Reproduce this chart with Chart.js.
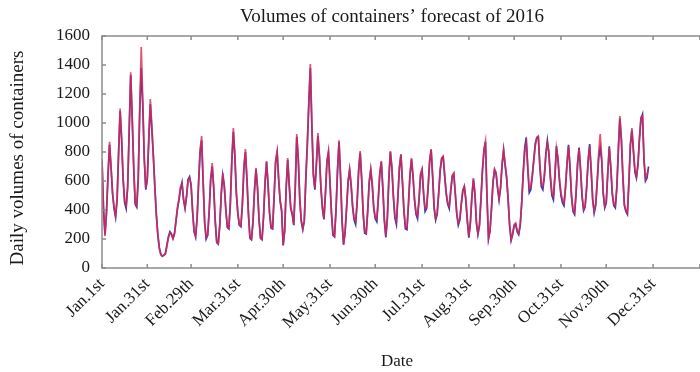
<!DOCTYPE html>
<html>
<head>
<meta charset="utf-8">
<script src="https://cdn.jsdelivr.net/npm/chart.js@4"></script>
<style>
  html, body { margin: 0; padding: 0; background: #fff; overflow: hidden; width: 700px; height: 372px; }
  #wrap { width: 724px; height: 372px; }
</style>
</head>
<body>
<div id="wrap"><canvas id="c" width="724" height="372"></canvas></div>
<script>
// Daily container volumes, 2016 (index 0 = Jan 1st)
const observed = [
  750,420,220,380,650,870,700,520,420,360,
  480,800,1100,900,620,460,430,560,950,1350,
  1050,700,450,430,620,1100,1524,1150,760,550,
  620,900,1165,980,785,560,360,220,130,90,
  83,90,97,150,210,240,230,200,230,330,
  420,480,560,580,480,420,500,600,620,580,
  400,260,220,350,600,820,910,600,320,210,
  230,400,620,724,560,330,180,170,300,520,
  655,560,400,290,275,450,750,965,780,520,
  380,300,290,450,700,820,620,380,210,200,
  320,540,690,560,340,210,200,360,600,738,
  580,380,280,275,500,740,807,620,470,400,
  160,260,560,758,580,420,380,300,560,924,
  760,480,330,270,330,620,860,1150,1407,1000,
  650,550,720,930,780,560,420,340,520,740,
  807,600,380,230,220,400,680,880,640,330,
  165,250,420,600,683,580,430,340,324,460,
  680,807,620,380,250,241,400,600,683,580,
  420,350,338,480,660,738,560,340,220,350,
  620,807,700,500,360,324,500,700,786,600,
  400,280,276,450,650,758,640,480,380,360,
  480,650,683,520,410,420,560,740,820,640,
  420,345,380,520,680,760,772,640,520,450,
  428,540,640,655,520,380,310,340,450,540,
  566,476,330,220,320,500,620,520,320,241,
  300,480,680,820,876,500,207,260,420,600,
  683,660,560,480,560,720,820,720,634,480,
  300,200,240,300,310,260,241,300,450,650,
  800,862,700,545,560,640,740,840,900,910,
  720,580,566,640,780,862,800,640,520,497,
  640,828,760,620,520,470,450,560,720,841,
  700,500,400,380,520,720,820,680,500,407,
  430,560,740,841,680,480,393,440,600,800,
  924,760,520,428,460,660,828,700,520,440,
  428,560,820,1048,900,640,440,400,380,600,
  860,965,820,680,634,720,900,1040,1048,760,
  614,650,683
];

const forecast = [
  740,400,230,390,640,850,690,510,410,350,
  470,790,1080,880,610,450,410,560,940,1330,
  1030,690,440,420,610,1080,1380,1120,750,540,
  610,880,1130,960,770,560,370,230,140,95,
  80,88,100,160,215,250,235,205,240,320,
  410,470,545,590,470,410,490,610,630,570,
  390,250,215,340,590,800,880,590,310,200,
  225,390,610,700,550,320,175,165,290,510,
  640,570,410,280,270,440,740,940,770,510,
  370,295,285,440,690,800,610,370,205,195,
  315,530,680,550,335,205,195,350,590,730,
  570,375,275,270,490,730,795,610,460,390,
  155,255,550,745,570,410,370,295,550,905,
  750,470,320,265,325,610,850,1130,1380,980,
  640,540,710,910,770,550,410,335,510,730,
  795,590,375,225,215,395,670,870,630,320,
  160,245,410,590,675,570,420,330,300,450,
  670,795,610,370,240,235,390,590,675,570,
  410,340,320,470,650,730,550,330,210,340,
  610,800,690,490,345,300,490,690,780,590,
  390,270,265,440,640,750,630,470,370,340,
  470,640,675,510,390,410,550,730,815,630,
  410,330,370,510,670,755,765,630,510,440,
  410,530,630,650,510,370,295,330,440,530,
  560,465,320,210,310,490,610,510,310,230,
  290,470,670,810,870,490,200,255,410,590,
  675,650,550,470,550,710,810,710,620,470,
  290,190,230,290,300,250,230,290,450,660,
  830,900,690,520,540,630,750,860,900,905,
  700,560,540,630,790,880,790,620,500,470,
  630,840,750,600,500,450,430,550,720,850,
  690,490,390,370,510,720,830,670,490,395,
  420,550,740,855,670,470,380,430,590,760,
  830,740,510,415,450,650,840,690,510,430,
  415,550,810,1030,880,630,430,390,370,590,
  850,950,800,660,620,710,890,1030,1060,740,
  600,620,700
];

// Day-of-year positions of the date ticks and their labels
const tickDays = [0, 30, 59, 90, 120, 151, 181, 212, 243, 273, 304, 334, 365, 396];
const tickLabels = ['Jan.1st', 'Jan.31st', 'Feb.29th', 'Mar.31st', 'Apr.30th', 'May.31st',
  'Jun.30th', 'Jul.31st', 'Aug.31st', 'Sep.30th', 'Oct.31st', 'Nov.30th', 'Dec.31st', ''];

const serif = "'Liberation Serif', 'Times New Roman', serif";
const toPoints = arr => arr.map((v, i) => ({ x: i, y: v }));

// Box frame with inward tick marks, plus the chart and axis titles
const framePlugin = {
  id: 'frame',
  afterDraw(chart) {
    const { ctx, chartArea: a, scales: { x, y } } = chart;
    ctx.save();
    ctx.strokeStyle = '#8c8c8c';
    ctx.lineWidth = 1.5;
    ctx.strokeRect(a.left, a.top, a.right - a.left, a.bottom - a.top);
    const t = 4;
    ctx.beginPath();
    tickDays.forEach(d => {
      const px = x.getPixelForValue(d);
      ctx.moveTo(px, a.bottom); ctx.lineTo(px, a.bottom - t);
      ctx.moveTo(px, a.top); ctx.lineTo(px, a.top + t);
    });
    y.ticks.forEach(tk => {
      const py = y.getPixelForValue(tk.value);
      ctx.moveTo(a.left, py); ctx.lineTo(a.left + t, py);
    });
    ctx.stroke();

    ctx.fillStyle = '#1a1a1a';
    ctx.textAlign = 'center';
    ctx.textBaseline = 'middle';
    ctx.font = `19px ${serif}`;
    ctx.fillText('Volumes of containers\u2019 forecast of 2016', 392, 17);
    ctx.font = `17px ${serif}`;
    ctx.fillText('Date', 397, 362);
    ctx.translate(18, 158);
    ctx.rotate(-Math.PI / 2);
    ctx.font = `19px ${serif}`;
    ctx.fillText('Daily volumes of containers', 0, 0);
    ctx.restore();
  }
};

new Chart(document.getElementById('c'), {
  type: 'line',
  data: {
    datasets: [
      {
        label: 'Forecast',
        data: toPoints(forecast),
        borderColor: '#3a3ab8',
        borderWidth: 1.7,
        pointRadius: 0,
        order: 2
      },
      {
        label: 'Observed',
        data: toPoints(observed),
        borderColor: 'rgba(222, 40, 80, 0.8)',
        borderWidth: 1.7,
        pointRadius: 0,
        order: 1
      }
    ]
  },
  options: {
    responsive: false,
    animation: false,
    layout: { padding: { top: 36, right: 3, left: 0, bottom: 0 } },
    plugins: { legend: { display: false }, tooltip: { enabled: false }, title: { display: false } },
    scales: {
      x: {
        type: 'linear',
        min: 0,
        max: 410,
        grid: { display: false, drawTicks: false },
        border: { display: false },
        afterBuildTicks: s => { s.ticks = tickDays.map(v => ({ value: v })); },
        afterFit: s => { s.height = 104; },
        ticks: {
          autoSkip: false,
          minRotation: 45,
          maxRotation: 45,
          padding: 6,
          color: '#1a1a1a',
          font: { family: serif, size: 17 },
          callback: (v, i) => tickLabels[i]
        }
      },
      y: {
        min: 0,
        max: 1600,
        grid: { display: false, drawTicks: false },
        border: { display: false },
        afterFit: s => { s.width = 102; },
        ticks: {
          stepSize: 200,
          padding: 12,
          color: '#1a1a1a',
          font: { family: serif, size: 17 },
          callback: v => String(v)
        }
      }
    }
  },
  plugins: [framePlugin]
});
</script>
</body>
</html>
